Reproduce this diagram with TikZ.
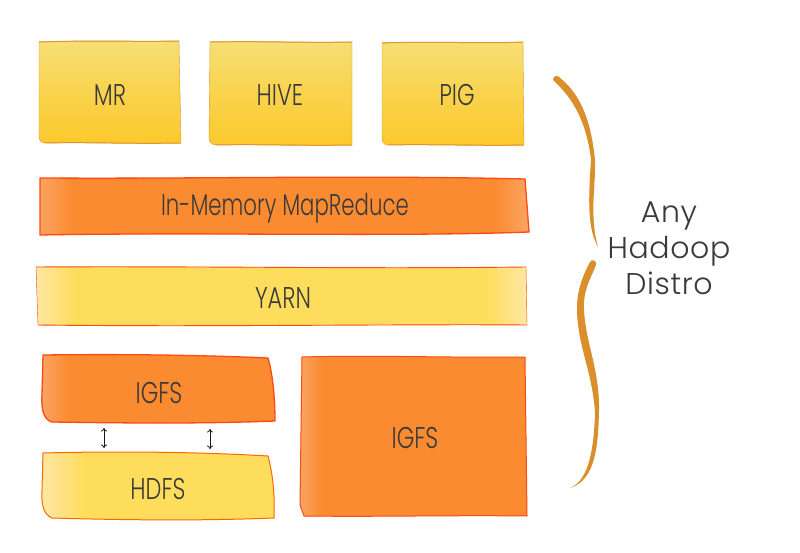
\documentclass[tikz,border=0pt]{standalone}
\usepackage{fontspec}
\usetikzlibrary{arrows.meta}
\newfontfamily\labfont[FakeStretch=0.75]{Poppins Light}
\newfontfamily\narrowfont[FakeStretch=0.71]{Poppins Light}
\newfontfamily\sidefont[LetterSpace=2]{Poppins Light}
\definecolor{ink}{HTML}{3A3A3A}
\definecolor{orangeF}{HTML}{FB8B30}
\definecolor{orangeL}{HTML}{FAA566}
\definecolor{redE}{HTML}{FB4A12}
\definecolor{goldE}{HTML}{E0952F}
\definecolor{yelT}{HTML}{F6DF75}
\definecolor{yelB}{HTML}{FBC92C}
\definecolor{yelM}{HTML}{FFDD5C}
\definecolor{yelL}{HTML}{FDE7A6}
\definecolor{brace}{HTML}{DA8E2C}
\tikzset{
  x=1pt,y=-1pt,
  lab/.style={text=ink,font=\labfont\fontsize{30}{30}\selectfont,inner sep=0pt,anchor=base},
  labn/.style={text=ink,font=\narrowfont\fontsize{30}{30}\selectfont,inner sep=0pt,anchor=base},
  side/.style={text=ink,font=\sidefont\fontsize{30}{36}\selectfont,inner sep=0pt,align=center},
  edgeO/.style={draw=redE,line width=1.3pt,line join=round},
  edgeG/.style={draw=goldE,line width=1pt,line join=round},
  tall/.style={top color=yelT,bottom color=yelB,middle color=yelB!55!yelT,shading angle=0},
  hs/.style={draw=black!90,line width=.8pt,{To[length=3.5pt,width=6pt]}-{To[length=3.5pt,width=6pt]}},
}
% path, colour of the body, colour of the pale ends, left fade end x, right fade start x, right end x, rim
\newcommand{\washbox}[6]{%
  \fill[#2] #1;
  \begin{scope}
    \clip #1;
    \shade[left color=#3,right color=#2] (#4,340) rectangle ++(#5,-340);
    \shade[left color=#2,right color=#3] (#6,340) rectangle ++(40,-340);
    \shade[left color=#3,right color=#2] (#4,530) rectangle ++(#5,-190);
  \end{scope}}
\begin{document}
\begin{tikzpicture}
\useasboundingbox (0,0) rectangle (800,553);
\fill[white] (0,0) rectangle (800,553);
% top yellow boxes
\def\pMR{(39,42) .. controls (100,40) and (130,42) .. (179,41) -- (181,143) .. controls (130,144) and (90,142) .. (45,143) .. controls (41,143) and (39,140) .. (39,136) -- cycle}
\shade[tall] \pMR; \draw[goldE,line width=.4pt] \pMR;
\draw[edgeG] (39,42) .. controls (100,40) and (130,42) .. (179,41);
\draw[edgeG] (45,143) .. controls (90,142) and (130,144) .. (181,143);
\def\pHV{(210,42) .. controls (270,41) and (300,43) .. (352,42) -- (352,145) .. controls (300,146) and (260,144) .. (216,145) .. controls (212,145) and (209,142) .. (209,138) -- cycle}
\shade[tall] \pHV; \draw[goldE,line width=.4pt] \pHV;
\draw[edgeG] (210,42) .. controls (270,41) and (300,43) .. (352,42);
\draw[edgeG] (216,145) .. controls (260,144) and (300,146) .. (352,145);
\def\pPG{(382,43) .. controls (440,41) and (480,44) .. (523,42) -- (524,145) .. controls (480,146) and (430,144) .. (388,145) .. controls (384,145) and (382,142) .. (382,138) -- cycle}
\shade[tall] \pPG; \draw[goldE,line width=.4pt] \pPG;
\draw[edgeG] (382,43) .. controls (440,41) and (480,44) .. (523,42);
\draw[edgeG] (388,145) .. controls (430,144) and (480,146) .. (524,145);
% in-memory bar
\def\pIM{(40,178) .. controls (200,179) and (360,175) .. (525,179) -- (529,232) .. controls (400,237) and (200,232) .. (40,235) -- cycle}
\fill[orangeF] \pIM;
\begin{scope}
  \clip \pIM;
  \shade[left color=orangeL,right color=orangeF] (38,170) rectangle (72,240);
  \shade[left color=orangeF,right color=orangeL] (495,170) rectangle (530,240);
\end{scope}
\draw[edgeO] \pIM;
% yarn bar
\def\pYN{(36,267) .. controls (200,266) and (360,269) .. (526,267) -- (527,325) .. controls (400,324) and (200,327) .. (38,325) -- cycle}
\fill[yelM] \pYN;
\begin{scope}
  \clip \pYN;
  \shade[left color=yelL,right color=yelM] (34,260) rectangle (75,330);
  \shade[left color=yelM,right color=yelL] (485,260) rectangle (528,330);
\end{scope}
\draw[edgeO,line width=.9pt] (36,267) .. controls (200,266) and (360,269) .. (526,267);
\draw[edgeO,line width=.9pt] (38,325) .. controls (200,327) and (400,324) .. (527,325);
\draw[edgeO,line width=.4pt] (36,267) -- (38,325);
\draw[edgeO,line width=.4pt] (526,267) -- (527,325);
% lower left
\def\pIA{(43,355) .. controls (120,354) and (200,355) .. (268,358) .. controls (273,375) and (275,400) .. (275,421) .. controls (200,424) and (120,423) .. (52,422) .. controls (44,420) and (41,410) .. (42,395) -- cycle}
\fill[orangeF] \pIA;
\begin{scope}
  \clip \pIA;
  \shade[left color=orangeL,right color=orangeF] (40,350) rectangle (70,430);
\end{scope}
\draw[edgeO] \pIA;
\def\pHD{(43,453) .. controls (120,451) and (200,452) .. (268,456) .. controls (273,475) and (275,495) .. (274,518) .. controls (200,521) and (120,520) .. (52,518) .. controls (44,515) and (41,505) .. (42,490) -- cycle}
\fill[yelM] \pHD;
\begin{scope}
  \clip \pHD;
  \shade[left color=yelL,right color=yelM] (40,450) rectangle (85,525);
\end{scope}
\draw[draw=orange!80!red,line width=1pt,line join=round] \pHD;
% right block
\def\pIB{(302,357) .. controls (380,355) and (450,358) .. (525,357) -- (527,516) .. controls (450,515) and (380,517) .. (304,516) -- (300,505) -- cycle}
\fill[orangeF] \pIB;
\begin{scope}
  \clip \pIB;
  \shade[left color=orangeL,right color=orangeF] (298,350) rectangle (322,520);
\end{scope}
\draw[edgeO,line width=1pt] \pIB;
% text
\node[lab] (mr) at (110,106) {MR};
\node[lab] (hive) at (280,106) {HIVE};
\node[lab] (pig) at (457,106) {PIG};
\node[labn] (imr) at (285,216) {In-Memory MapReduce};
\node[lab] (yarn) at (283,308) {YARN};
\node[lab] (igfsa) at (159,403) {IGFS};
\node[lab] (hdfs) at (158,499) {HDFS};
\node[lab] (igfsb) at (415,448) {IGFS};
\node[side] (any) at (669,248) {Any\\Hadoop\\Distro};
% connectors between IGFS and HDFS
\coordinate (ia) at (104,428); \coordinate (ha) at (104,448);
\coordinate (ib) at (210,429); \coordinate (hb) at (210,449);
\draw[hs] (ia) -- (ha);
\draw[hs] (ib) -- (hb);
% braces
\fill[brace] (553,80) .. controls (553,76) and (557,75) .. (559,77)
  .. controls (575,90) and (590,110) .. (595,160)
  .. controls (596,185) and (589,215) .. (598,247)
  .. controls (590,232) and (587,215) .. (591,160)
  .. controls (587,125) and (575,100) .. (553,80) -- cycle;
\fill[brace] (590,262) .. controls (592,258) and (597,261) .. (596,265)
  .. controls (590,280) and (583,290) .. (584,310)
  .. controls (586,345) and (600,370) .. (599,412)
  .. controls (598,445) and (596,480) .. (570,488)
  .. controls (590,480) and (594,445) .. (595,412)
  .. controls (592,370) and (577,345) .. (577,308)
  .. controls (577,290) and (583,275) .. (590,262) -- cycle;
\end{tikzpicture}
\end{document}
